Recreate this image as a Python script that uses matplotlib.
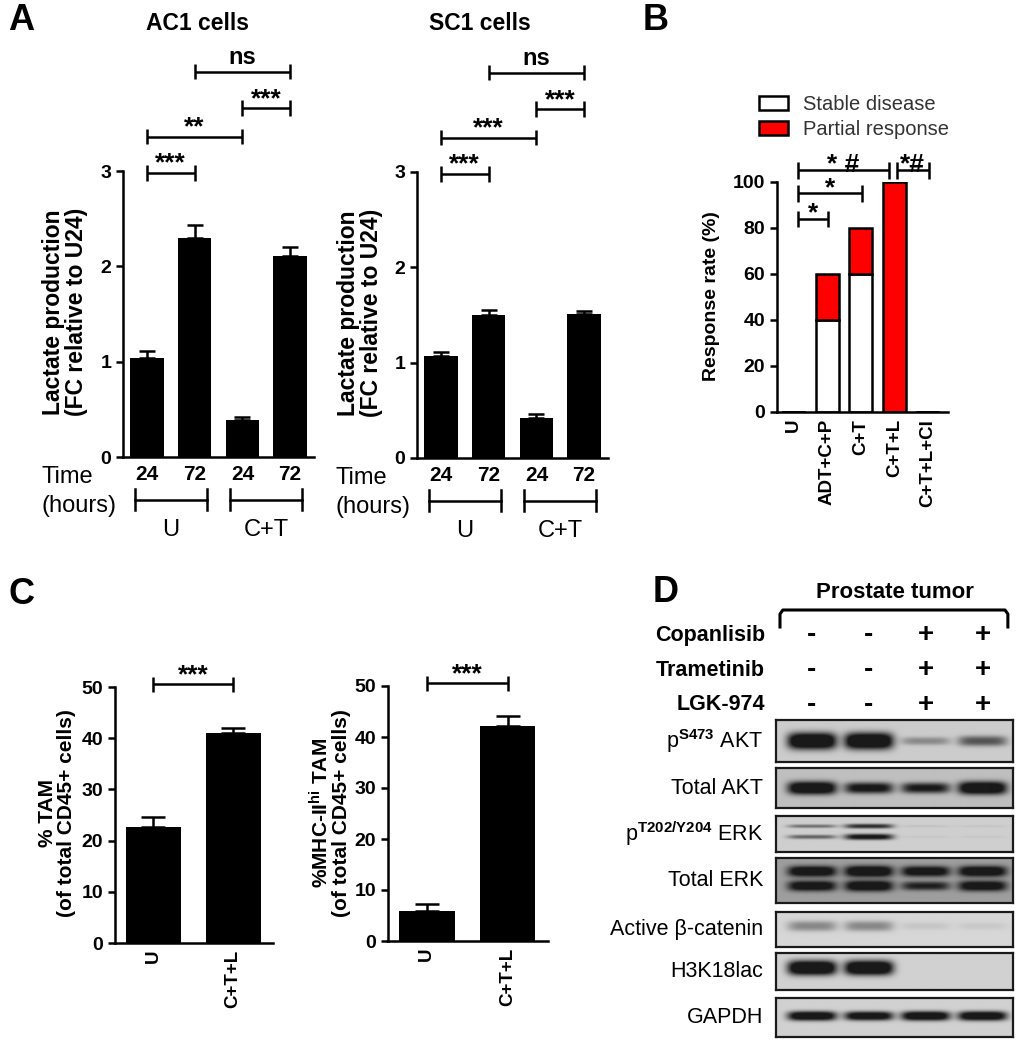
import matplotlib
matplotlib.use("Agg")
import matplotlib.pyplot as plt
import numpy as np
from matplotlib.patches import Patch

W, H = 1028, 1050
plt.rcParams['font.family'] = ['Liberation Sans', 'DejaVu Sans']
plt.rcParams['font.weight'] = 'bold'
plt.rcParams['axes.linewidth'] = 1.8
plt.rcParams['mathtext.fontset'] = 'custom'
plt.rcParams['mathtext.rm'] = 'Liberation Sans'
plt.rcParams['mathtext.it'] = 'Liberation Sans:italic'
plt.rcParams['mathtext.bf'] = 'Liberation Sans:bold'

# ---- panel A data ----
time_labels = ["24", "72", "24", "72"]
time_groups = ["U", "C+T"]
ac1_lactate = [1.04, 2.30, 0.39, 2.11]
ac1_err = [0.07, 0.13, 0.03, 0.09]
sc1_lactate = [1.07, 1.50, 0.42, 1.51]
sc1_err = [0.04, 0.05, 0.04, 0.03]
ac1_sig = [(0, 1, "***", 2.98), (0, 2, "**", 3.36), (2, 3, "***", 3.66), (1, 3, "ns", 4.04)]
sc1_sig = [(0, 1, "***", 2.98), (0, 2, "***", 3.36), (2, 3, "***", 3.66), (1, 3, "ns", 4.04)]

# ---- panel B data ----
b_groups = ["U", "ADT+C+P", "C+T", "C+T+L", "C+T+L+CI"]
stable_disease = [0, 40, 60, 0, 0]
partial_response = [0, 20, 20, 100, 0]
b_sig = [(0, 1, "*", 84), (0, 2, "*", 95), (0, 3, "* #", 105), (3, 4, "*#", 105)]

# ---- panel C data ----
c_groups = ["U", "C+T+L"]
tam_pct = [22.6, 41.0]
tam_err = [2.0, 1.0]
mhc_pct = [5.9, 42.2]
mhc_err = [1.3, 1.9]

# ---- panel D data ----
copanlisib = ["-", "-", "+", "+"]
trametinib = ["-", "-", "+", "+"]
lgk974 = ["-", "-", "+", "+"]
blot_labels = [r"p$^{\mathrm{S473}}$ AKT", "Total AKT", r"p$^{\mathrm{T202/Y204}}$ ERK",
               "Total ERK", "Active \u03b2-catenin", "H3K18lac", "GAPDH"]
pakt = [1.0, 1.0, 0.25, 0.45]
takt = [0.95, 0.75, 0.7, 0.95]
perk_upper = [0.35, 0.6, 0.05, 0.04]
perk_lower = [0.4, 0.75, 0.03, 0.03]
terk_upper = [0.9, 0.95, 0.85, 0.9]
terk_lower = [0.85, 0.9, 0.65, 0.85]
bcat = [0.28, 0.28, 0.06, 0.05]
h3k18 = [1.0, 1.0, 0.0, 0.0]
gapdh = [0.9, 0.85, 0.9, 0.9]
blot_bg = [0.80, 0.75, 0.81, 0.62, 0.84, 0.82, 0.82]

fig = plt.figure(figsize=(W / 100, H / 100), dpi=100)


def add_ax(x0, y0, x1, y1):
    return fig.add_axes([x0 / W, 1 - y1 / H, (x1 - x0) / W, (y1 - y0) / H])


def ftext(x, y, s, **kw):
    return fig.text(x / W, 1 - y / H, s, **kw)


def style(ax):
    for s in ['top', 'right']:
        ax.spines[s].set_visible(False)
    ax.tick_params(axis='y', length=5, width=1.8, labelsize=14)


def bracket(ax, x0, x1, y, label, tick, off, fs=19):
    kw = dict(color='k', lw=1.8, clip_on=False, solid_capstyle='butt')
    ax.plot([x0, x1], [y, y], **kw)
    ax.plot([x0, x0], [y - tick, y + tick], **kw)
    ax.plot([x1, x1], [y - tick, y + tick], **kw)
    ax.text((x0 + x1) / 2, y + off, label, ha='center', va='bottom',
            fontsize=fs, fontweight='bold')


# ---- Panel A ----
for box, vals, errs, sig, title, tx in [
        ((123, 171, 314, 457), ac1_lactate, ac1_err, ac1_sig, "AC1 cells", 197),
        ((417, 172, 608, 458), sc1_lactate, sc1_err, sc1_sig, "SC1 cells", 480)]:
    ax = add_ax(*box)
    x = np.arange(len(vals))
    ax.bar(x, vals, width=0.7, color='k')
    ax.errorbar(x, vals, yerr=[np.zeros(len(vals)), errs], fmt='none', ecolor='k',
                elinewidth=1.8, capsize=6, capthick=1.8)
    ax.set_xlim(-0.5, 3.5)
    ax.set_ylim(0, 3)
    ax.set_yticks([0, 1, 2, 3])
    ax.set_xticks(x, time_labels)
    style(ax)
    ax.tick_params(axis='x', length=0, pad=6, labelsize=15)
    for i, j, lab, y in sig:
        if '*' in lab:
            bracket(ax, i, j, y, lab, 0.08, -0.03, fs=19)
        else:
            bracket(ax, i, j, y, lab, 0.08, 0.03, fs=17)
    ax.text(-2.2, -0.21, "Time", ha='left', va='center', fontsize=17,
            fontweight='normal', clip_on=False)
    ax.text(-2.2, -0.51, "(hours)", ha='left', va='center', fontsize=17,
            fontweight='normal', clip_on=False)
    for k, g in enumerate(time_groups):
        a, b = 2 * k - 0.25, 2 * k + 1.25
        ax.plot([a, b], [-0.45, -0.45], color='k', lw=1.8, clip_on=False)
        ax.plot([a, a], [-0.34, -0.56], color='k', lw=1.8, clip_on=False)
        ax.plot([b, b], [-0.34, -0.56], color='k', lw=1.8, clip_on=False)
        ax.text(2 * k + 0.5, -0.77, g, ha='center', va='center', fontsize=17,
                fontweight='normal', clip_on=False)
    ftext(tx, 24, title, ha='center', va='center', fontsize=16.5)

ftext(65, 312, "Lactate production\n(FC relative to U24)", rotation=90,
      ha='center', va='center', fontsize=16.5, linespacing=1.0)
ftext(360, 313, "Lactate production\n(FC relative to U24)", rotation=90,
      ha='center', va='center', fontsize=16.5, linespacing=1.0)

# ---- Panel B ----
axb = add_ax(777, 182, 948, 412)
xb = np.arange(len(b_groups))
axb.bar(xb, stable_disease, width=0.69, color='white', edgecolor='k', lw=1.8,
        label='Stable disease')
axb.bar(xb, partial_response, bottom=stable_disease, width=0.69, color='#ff0000',
        edgecolor='k', lw=1.8, label='Partial response')
axb.set_xlim(-0.5, 4.6)
axb.set_ylim(0, 100)
axb.set_yticks([0, 20, 40, 60, 80, 100])
axb.set_xticks(xb, b_groups, rotation=90)
style(axb)
axb.tick_params(axis='x', length=0, pad=5, labelsize=13.5)
for i, j, lab, y in b_sig:
    x0 = i + 0.12 if i == 0 else i + 0.07
    x1 = j - 0.16 if (i == 0 and j == 3) else j + 0.03
    bracket(axb, x0, x1, y, lab, 3.5, -2.8, fs=19)
fig.legend(handles=[Patch(facecolor='white', edgecolor='k', lw=1.8, label='Stable disease'),
                    Patch(facecolor='#ff0000', edgecolor='k', lw=1.8, label='Partial response')],
           loc='upper left', bbox_to_anchor=(741 / W, 1 - 77 / H), frameon=False,
           prop=dict(size=14.5, weight='normal'), labelcolor='#333333',
           handlelength=1.45, handleheight=0.7, handletextpad=0.75, labelspacing=0.3)
ftext(712, 296, "Response rate (%)", rotation=90, ha='center', va='center', fontsize=14)

# ---- Panel C ----
for box, vals, errs, lab, lx in [
        ((115, 687, 273, 943), tam_pct, tam_err, "% TAM\n(of total CD45+ cells)", 57),
        ((388, 686, 548, 941), mhc_pct, mhc_err,
         "%MHC-II$^{\\mathrm{hi}}$ TAM\n(of total CD45+ cells)", 330)]:
    ax = add_ax(*box)
    x = np.arange(len(vals))
    ax.bar(x, vals, width=0.69, color='k')
    ax.errorbar(x, vals, yerr=[np.zeros(len(vals)), errs], fmt='none', ecolor='k',
                elinewidth=1.8, capsize=8.5, capthick=1.8)
    ax.set_xlim(-0.48, 1.5)
    ax.set_ylim(0, 50)
    ax.set_yticks([0, 10, 20, 30, 40, 50])
    ax.set_xticks(x, c_groups, rotation=90)
    style(ax)
    ax.tick_params(axis='x', length=0, pad=5, labelsize=13.5)
    bracket(ax, 0, 1, 50.5, "***", 1.4, -0.6, fs=19)
    ftext(lx, 813, lab, rotation=90, ha='center', va='center', fontsize=15,
          linespacing=1.0)

# ---- Panel D ----
lane_x = np.arange(4)
xlo, xhi = -0.63, 3.53
blot_boxes = [(720, 762), (768, 808), (816, 852), (858, 903), (912, 947), (953, 990), (998, 1037)]
blot_bands = [
    [(0.5, pakt, 0.2)],
    [(0.5, takt, 0.17)],
    [(0.72, perk_upper, 0.09), (0.42, perk_lower, 0.1)],
    [(0.69, terk_upper, 0.13), (0.37, terk_lower, 0.13)],
    [(0.6, bcat, 0.3)],
    [(0.6, h3k18, 0.2)],
    [(0.54, gapdh, 0.13)],
]
gx = np.linspace(xlo, xhi, 300)
gy = np.linspace(0, 1, 80)
GX, GY = np.meshgrid(gx, gy)
for (y0, y1), bands, bg, lab in zip(blot_boxes, blot_bands, blot_bg, blot_labels):
    ax = add_ax(776, y0, 1013, y1)
    dark = np.zeros_like(GX)
    for yc, inten, hh in bands:
        for lx_, v in zip(lane_x, inten):
            h = hh * (0.3 + 0.7 * v)
            dark += 1.5 * v * np.exp(-np.abs((GX - lx_) / 0.43) ** 5) \
                * np.exp(-np.abs((GY - yc) / h) ** 2.5)
    img = bg - np.clip(dark, 0, 1) * (bg - 0.1)
    ax.imshow(img, cmap='gray', vmin=0, vmax=1, extent=(xlo, xhi, 0, 1),
              origin='lower', aspect='auto', interpolation='bilinear')
    ax.set_xlim(xlo, xhi)
    ax.set_ylim(0, 1)
    ax.set_xticks([])
    ax.set_yticks([])
    for s in ax.spines.values():
        s.set_linewidth(1.6)
        s.set_color('#1a1a1a')
    ftext(763, (y0 + y1) / 2, lab, ha='right', va='center', fontsize=15.5,
          fontweight='normal')

axh = add_ax(776, 575, 1013, 715)
axh.set_xlim(xlo, xhi)
axh.set_ylim(715, 575)
axh.axis('off')
axh.plot([xlo + 0.07, xlo + 0.07, xlo + 0.12, xhi - 0.14, xhi - 0.09, xhi - 0.09],
         [627, 614, 610, 610, 614, 627], color='k', lw=2.2, clip_on=False)
axh.text((xlo + xhi) / 2, 592, "Prostate tumor", ha='center', va='center', fontsize=16)
for row, y in zip([copanlisib, trametinib, lgk974], [635, 670, 705]):
    for lx_, s in zip(lane_x, row):
        axh.text(lx_, y, s, ha='center', va='center', fontsize=20)
for name, y in zip(["Copanlisib", "Trametinib", "LGK-974"], [635, 670, 705]):
    ftext(765, y, name, ha='right', va='center', fontsize=15.5)

# panel letters
for letter, x, y in [("A", 21, 21), ("B", 656, 20), ("C", 21, 594), ("D", 666, 592)]:
    ftext(x, y, letter, ha='center', va='center', fontsize=26)

fig.savefig("out.png", dpi=100)
